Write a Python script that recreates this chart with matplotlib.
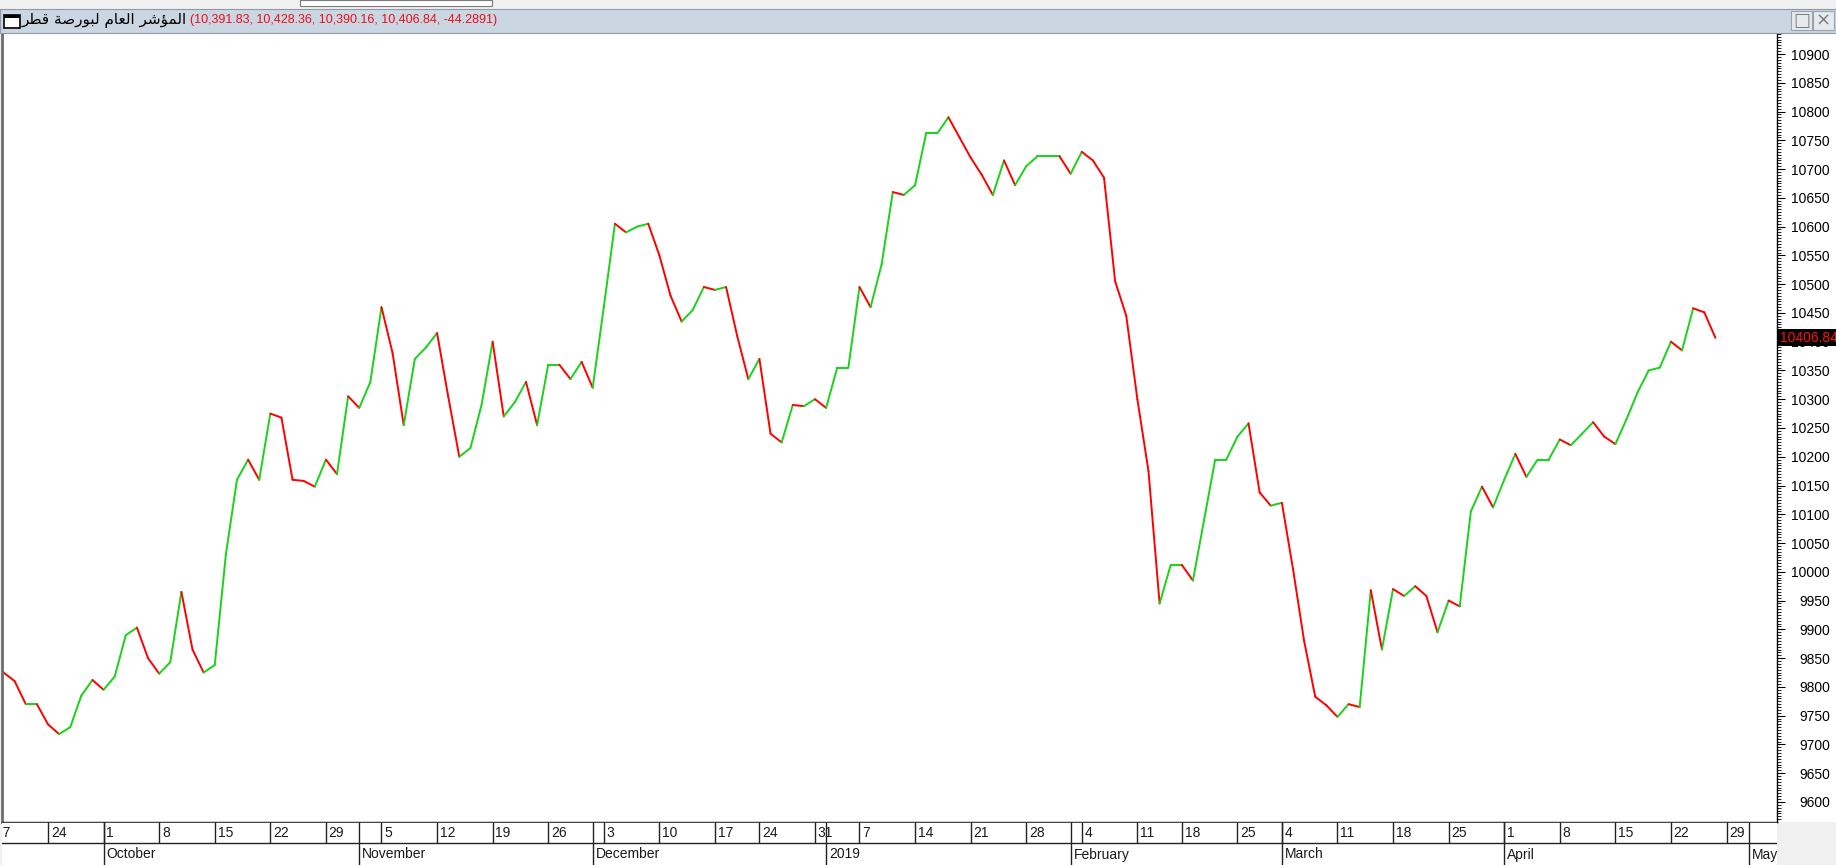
import matplotlib
matplotlib.use("Agg")
import matplotlib.pyplot as plt
import numpy as np
import pandas as pd
from matplotlib.collections import LineCollection
from matplotlib.patches import Rectangle
from matplotlib.ticker import MultipleLocator

W, H = 1836, 865

# trading calendar of the exchange (Sun-Thu), holidays removed
holidays = ["2018-12-18", "2019-01-01", "2019-02-12", "2019-03-03"]
days = pd.bdate_range("2018-09-17", "2019-05-09", freq="C",
                      weekmask="Sun Mon Tue Wed Thu", holidays=holidays)

# daily close, 17 Sep 2018 .. 28 Apr 2019
close = [
    9835, 9825, 9810, 9770, 9770, 9735, 9718, 9730, 9785, 9812,
    9795, 9818, 9890, 9903, 9850, 9823, 9843, 9965, 9865, 9825,
    9838, 10030, 10160, 10195, 10160, 10275, 10268, 10160, 10158, 10148,
    10195, 10170, 10305, 10285, 10330, 10460, 10380, 10255, 10370, 10390,
    10415, 10305, 10200, 10215, 10290, 10400, 10270, 10295, 10330, 10255,
    10360, 10360, 10335, 10365, 10320, 10460, 10605, 10590, 10600, 10605,
    10550, 10480, 10435, 10455, 10495, 10490, 10495, 10410, 10335, 10370,
    10240, 10225, 10290, 10288, 10300, 10285, 10355, 10355, 10495, 10460,
    10535, 10660, 10655, 10672, 10762, 10762, 10790, 10755, 10720, 10690,
    10655, 10715, 10672, 10705, 10722, 10722, 10722, 10692, 10730, 10715,
    10685, 10505, 10445, 10300, 10175, 9945, 10012, 10012, 9985, 10090,
    10195, 10195, 10235, 10258, 10138, 10115, 10120, 10005, 9880, 9783,
    9768, 9748, 9770, 9765, 9968, 9865, 9970, 9958, 9975, 9958,
    9895, 9950, 9940, 10105, 10148, 10112, 10160, 10205, 10165, 10195,
    10195, 10230, 10220, 10240, 10260, 10235, 10222, 10265, 10312, 10350,
    10355, 10400, 10385, 10458, 10451, 10406.84,
]

title_ar = "\ufeae\ufec4\ufed7 \ufe94\ufebb\ufead\ufeee\ufe92\ufedf \ufee1\ufe8e\ufecc\ufedf\ufe8d \ufeae\ufeb7\ufe86\ufee4\ufedf\ufe8d"  # المؤشر العام لبورصة قطر
title_vals = "(10,391.83, 10,428.36, 10,390.16, 10,406.84, -44.2891)"
last_value = "10406.84"

yticks = np.arange(9600, 10901, 50)
month_names = {10: "October", 11: "November", 12: "December", 1: "2019",
               2: "February", 3: "March", 4: "April", 5: "May"}

plt.rcParams["font.family"] = ["Liberation Sans", "DejaVu Sans"]

fig = plt.figure(figsize=(W / 100, H / 100), dpi=100)
fig.patch.set_facecolor("#f0f0f0")


def px(x0, y0, w, h):
    # pixel box (top-left origin) -> figure fraction
    return [x0 / W, 1 - (y0 + h) / H, w / W, h / H]


# window chrome
fig.add_artist(Rectangle((0, 1 - 9 / H), 1, 9 / H, transform=fig.transFigure,
                         facecolor="#f0f0f0", edgecolor="none"))
fig.add_artist(Rectangle((300 / W, 1 - 6 / H), 192 / W, 6 / H, transform=fig.transFigure,
                         facecolor="white", edgecolor="#7a7a7a", lw=0.8))
fig.add_artist(Rectangle((0, 1 - 33 / H), 1, 24 / H, transform=fig.transFigure,
                         facecolor="#cbd6e3", edgecolor="#8e9aa8", lw=0.8))
fig.add_artist(Rectangle((4 / W, 1 - 28 / H), 16 / W, 13 / H, transform=fig.transFigure,
                         facecolor="white", edgecolor="black", lw=1.2))
fig.add_artist(Rectangle((4 / W, 1 - 18 / H), 16 / W, 3 / H, transform=fig.transFigure,
                         facecolor="black", edgecolor="none"))
for bx, glyph in [(1791, "\u25a1"), (1813, "\u00d7")]:
    fig.add_artist(Rectangle((bx / W, 1 - 30 / H), 21 / W, 19 / H, transform=fig.transFigure,
                             facecolor="#e6eaef", edgecolor="#9aa3ad", lw=0.8))
    fig.text((bx + 10.5) / W, 1 - 20.5 / H, glyph, ha="center", va="center",
             fontsize=13, color="#7d7d7d", family="DejaVu Sans")
fig.text(22 / W, 1 - 20.5 / H, title_ar, ha="left", va="center", fontsize=11,
         color="black", family="DejaVu Sans")
fig.text(190 / W, 1 - 20.5 / H, title_vals, ha="left", va="center", fontsize=9,
         color="#e8101a")

# price pane
x = np.arange(len(close))
y = np.array(close)
x_lo = (2 + 7.58) / 11.116
x_hi = (1777 + 7.58) / 11.116

ax = fig.add_axes(px(2, 33, 1775, 789))
ax.set_facecolor("white")
pts = np.column_stack([x, y])
segs = np.stack([pts[:-1], pts[1:]], axis=1)
cols = np.where(np.diff(y) >= 0, "#19d219", "#ff0000")
ax.add_collection(LineCollection(segs, colors=cols, linewidths=1.4, capstyle="round"))
ax.set_xlim(x_lo, x_hi)
ax.set_ylim(9565.2, 10936.5)
ax.set_xticks([])
ax.yaxis.tick_right()
ax.set_yticks(yticks)
ax.yaxis.set_minor_locator(MultipleLocator(5))
ax.tick_params(axis="y", which="major", direction="out", length=6, width=0.8,
               pad=32, labelsize=10, colors="black")
ax.tick_params(axis="y", which="minor", direction="out", length=3, width=0.6)
for lab in ax.get_yticklabels():
    lab.set_ha("right")
ax.spines["top"].set_visible(False)
ax.spines["left"].set_color("#6e6e6e")
ax.spines["left"].set_linewidth(2)
ax.spines["right"].set_linewidth(1)
ax.spines["bottom"].set_linewidth(1)

# last-price marker on the scale (covers the scale label beneath it)
ax.text(1.0015, close[-1], last_value, transform=ax.get_yaxis_transform(),
        ha="left", va="center", fontsize=10, color="#ff1010", clip_on=False,
        zorder=10,
        bbox=dict(boxstyle="square,pad=0.12", facecolor="black", edgecolor="none"))

# white strip behind the price scale
fig.add_artist(Rectangle((1777 / W, 1 - 822 / H), 59 / W, 789 / H,
                         transform=fig.transFigure, facecolor="white",
                         edgecolor="none", zorder=-1))

# date scale: week row and month row
dax = fig.add_axes(px(2, 822, 1775, 43))
dax.set_xlim(x_lo, x_hi)
dax.set_ylim(0, 43)
dax.axis("off")
dax.add_artist(Rectangle((0, 0), 1, 1, transform=dax.transAxes,
                         facecolor="white", edgecolor="none", zorder=0))
dax.axhline(43, color="#222", lw=1.2)
dax.axhline(22, color="#222", lw=1.0)

pos = np.arange(len(days))
mondays = [(p, d) for p, d in zip(pos, days) if d.dayofweek == 0]
for p, d in mondays:
    dax.vlines(p, 22, 43, color="#222", lw=1.0)
    dax.text(p + 0.25, 32, str(d.day), ha="left", va="center", fontsize=10,
             color="#1a1a1a", clip_on=True)
firsts = [(p, d) for p, d in zip(pos, days) if p == 0 or d.month != days[p - 1].month]
for p, d in firsts[1:]:
    dax.vlines(p, 0, 43, color="#222", lw=1.0)
    dax.text(p + 0.25, 10.5, month_names[d.month], ha="left", va="center",
             fontsize=10, color="#1a1a1a", clip_on=True)

fig.savefig("out.png", dpi=100, facecolor=fig.get_facecolor())
